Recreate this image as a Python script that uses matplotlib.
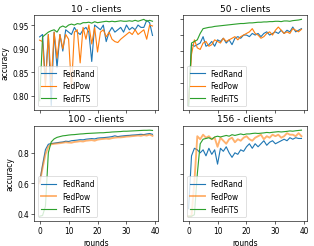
import matplotlib
matplotlib.use("Agg")
import matplotlib.pyplot as plt

rounds = list(range(40))
titles = ["10 - clients", "50 - clients", "100 - clients", "156 - clients"]

# 10 clients
rand10 = [0.925, 0.93, 0.83, 0.93, 0.78, 0.935, 0.86, 0.93, 0.895, 0.94, 0.935, 0.93, 0.945, 0.935, 0.93, 0.94, 0.945, 0.935, 0.873, 0.95,
          0.945, 0.94, 0.95, 0.915, 0.935, 0.945, 0.935, 0.94, 0.945, 0.935, 0.95, 0.94, 0.945, 0.94, 0.95, 0.945, 0.945, 0.96, 0.955, 0.928]
pow10 = [0.918, 0.915, 0.82, 0.93, 0.83, 0.935, 0.88, 0.93, 0.90, 0.93, 0.92, 0.817, 0.935, 0.94, 0.87, 0.945, 0.92, 0.95, 0.91, 0.945,
         0.893, 0.935, 0.94, 0.925, 0.935, 0.92, 0.915, 0.913, 0.92, 0.925, 0.93, 0.935, 0.93, 0.94, 0.93, 0.935, 0.94, 0.92, 0.95, 0.948]
fits10 = [0.79, 0.925, 0.93, 0.935, 0.938, 0.94, 0.935, 0.945, 0.948, 0.945, 0.95, 0.952, 0.95, 0.953, 0.952, 0.955, 0.955, 0.956, 0.954, 0.957,
          0.955, 0.956, 0.957, 0.958, 0.957, 0.958, 0.957, 0.958, 0.959, 0.958, 0.958, 0.959, 0.958, 0.96, 0.958, 0.96, 0.962, 0.958, 0.96, 0.958]

# 50 clients
rand50 = [0.68, 0.87, 0.865, 0.87, 0.875, 0.895, 0.865, 0.87, 0.88, 0.865, 0.885, 0.88, 0.89, 0.875, 0.885, 0.87, 0.89, 0.895, 0.89, 0.9,
          0.9, 0.895, 0.905, 0.9, 0.905, 0.895, 0.905, 0.91, 0.9, 0.905, 0.91, 0.905, 0.915, 0.905, 0.915, 0.91, 0.925, 0.91, 0.915, 0.92]
pow50 = [0.69, 0.84, 0.885, 0.86, 0.855, 0.875, 0.88, 0.865, 0.87, 0.885, 0.88, 0.875, 0.89, 0.88, 0.885, 0.89, 0.895, 0.885, 0.895, 0.9,
         0.905, 0.91, 0.92, 0.905, 0.9, 0.89, 0.895, 0.905, 0.91, 0.9, 0.915, 0.925, 0.915, 0.905, 0.91, 0.905, 0.92, 0.915, 0.91, 0.918]
fits50 = [0.68, 0.875, 0.88, 0.885, 0.905, 0.92, 0.922, 0.924, 0.925, 0.927, 0.928, 0.929, 0.93, 0.931, 0.932, 0.933, 0.934, 0.935, 0.936, 0.936,
          0.937, 0.938, 0.938, 0.939, 0.94, 0.94, 0.941, 0.941, 0.942, 0.942, 0.943, 0.943, 0.942, 0.944, 0.944, 0.943, 0.945, 0.946, 0.947, 0.949]

# 100 clients
rand100 = [0.61, 0.72, 0.82, 0.855, 0.86, 0.862, 0.865, 0.868, 0.87, 0.875, 0.873, 0.878, 0.88, 0.882, 0.885, 0.884, 0.888, 0.89, 0.892, 0.89,
           0.895, 0.897, 0.898, 0.9, 0.902, 0.905, 0.91, 0.905, 0.908, 0.91, 0.912, 0.913, 0.915, 0.916, 0.918, 0.92, 0.918, 0.922, 0.925, 0.92]
pow100 = [0.6, 0.7, 0.79, 0.84, 0.855, 0.858, 0.86, 0.862, 0.865, 0.868, 0.866, 0.865, 0.87, 0.872, 0.875, 0.873, 0.878, 0.88, 0.882, 0.878,
          0.885, 0.888, 0.89, 0.892, 0.89, 0.895, 0.898, 0.9, 0.9, 0.902, 0.905, 0.906, 0.908, 0.91, 0.912, 0.91, 0.915, 0.912, 0.918, 0.91]
fits100 = [0.385, 0.39, 0.45, 0.8, 0.87, 0.89, 0.9, 0.905, 0.91, 0.912, 0.915, 0.917, 0.918, 0.92, 0.922, 0.923, 0.925, 0.926, 0.927, 0.928,
           0.929, 0.93, 0.93, 0.932, 0.933, 0.935, 0.936, 0.937, 0.938, 0.94, 0.94, 0.941, 0.942, 0.943, 0.944, 0.945, 0.946, 0.946, 0.947, 0.945]

# 156 clients
rand156 = [0.37, 0.72, 0.77, 0.76, 0.74, 0.76, 0.72, 0.77, 0.73, 0.76, 0.665, 0.77, 0.75, 0.78, 0.74, 0.71, 0.74, 0.73, 0.76, 0.75,
           0.78, 0.8, 0.77, 0.8, 0.78, 0.8, 0.82, 0.79, 0.81, 0.82, 0.8, 0.81, 0.82, 0.83, 0.82, 0.84, 0.83, 0.84, 0.835, 0.835]
pow156 = [0.32, 0.32, 0.55, 0.85, 0.83, 0.86, 0.84, 0.85, 0.83, 0.84, 0.78, 0.84, 0.82, 0.8, 0.83, 0.84, 0.81, 0.83, 0.82, 0.84,
          0.85, 0.83, 0.82, 0.84, 0.85, 0.86, 0.83, 0.85, 0.84, 0.86, 0.85, 0.86, 0.84, 0.85, 0.87, 0.86, 0.86, 0.85, 0.87, 0.85]
fits156 = [0.32, 0.32, 0.33, 0.6, 0.8, 0.83, 0.835, 0.84, 0.83, 0.845, 0.85, 0.845, 0.85, 0.855, 0.85, 0.86, 0.855, 0.86, 0.865, 0.86,
           0.865, 0.865, 0.868, 0.87, 0.868, 0.87, 0.872, 0.875, 0.873, 0.876, 0.878, 0.88, 0.878, 0.88, 0.882, 0.885, 0.883, 0.886, 0.888, 0.89]

panels = [(rand10, pow10, fits10), (rand50, pow50, fits50),
          (rand100, pow100, fits100), (rand156, pow156, fits156)]

fig, axes = plt.subplots(2, 2, figsize=(5.833, 4.574), dpi=54)
fig.subplots_adjust(left=0.108, right=0.975, top=0.935, bottom=0.103, wspace=0.2, hspace=0.17)

for i, ax in enumerate(axes.flat):
    r, p, f = panels[i]
    ax.plot(rounds, r, label="FedRand")
    if i < 2:
        ax.plot(rounds, p, label="FedPow")
    else:
        ax.plot(rounds, p, label="FedPow", linewidth=2.5, alpha=0.6)
    ax.plot(rounds, f, label="FedFiTS")
    ax.set_title(titles[i])
    ax.set_xlabel("rounds")
    ax.set_ylabel("accuracy")
    ax.legend(loc="lower left")
    ax.label_outer()

plt.savefig("out.png")
